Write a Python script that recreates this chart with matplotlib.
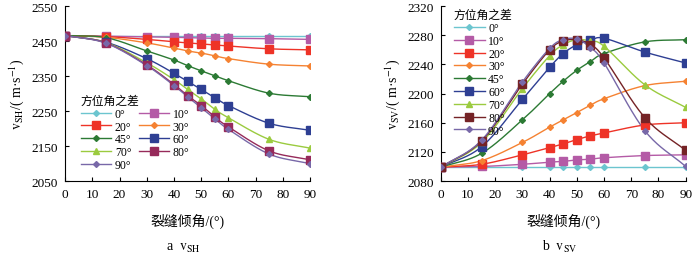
import numpy as np
import matplotlib
matplotlib.use('Agg')
import matplotlib.pyplot as plt

plt.rcParams['font.family'] = ['Liberation Serif', 'Noto Sans CJK SC']
plt.rcParams['mathtext.fontset'] = 'stix'

# fracture dip angle (deg)
dip = [0, 15, 30, 40, 45, 50, 55, 60, 75, 90]
labels = ['0°', '10°', '20°', '30°', '45°', '60°', '70°', '80°', '90°']

# vSH (m/s) for each azimuth difference
vsh = [
    [2466, 2466, 2466, 2466, 2466, 2466, 2466, 2466, 2466, 2466],
    [2466, 2464, 2462, 2461, 2460, 2459, 2458, 2458, 2457, 2455],
    [2466, 2463, 2455, 2448, 2445, 2442, 2439, 2436, 2428, 2425],
    [2466, 2461, 2445, 2430, 2422, 2416, 2408, 2400, 2384, 2379],
    [2466, 2460, 2422, 2396, 2380, 2365, 2351, 2337, 2301, 2291],
    [2466, 2447, 2400, 2358, 2335, 2312, 2288, 2266, 2215, 2195],
    [2466, 2446, 2388, 2340, 2312, 2285, 2255, 2231, 2169, 2144],
    [2466, 2445, 2382, 2326, 2294, 2266, 2233, 2205, 2136, 2111],
    [2466, 2444, 2380, 2323, 2291, 2260, 2228, 2198, 2127, 2100],
]

# vSV (m/s) for each azimuth difference
vsv = [
    [2099, 2099, 2099, 2099, 2099, 2099, 2099, 2099, 2099, 2099],
    [2099, 2100, 2103, 2106, 2107, 2109, 2110, 2112, 2115, 2116],
    [2099, 2103, 2116, 2126, 2131, 2137, 2142, 2146, 2157, 2160],
    [2099, 2108, 2133, 2154, 2164, 2174, 2184, 2193, 2211, 2217],
    [2099, 2118, 2164, 2200, 2217, 2232, 2244, 2255, 2271, 2274],
    [2099, 2127, 2192, 2236, 2255, 2267, 2273, 2276, 2257, 2242],
    [2099, 2133, 2207, 2252, 2267, 2274, 2272, 2265, 2212, 2181],
    [2099, 2135, 2213, 2260, 2272, 2274, 2267, 2249, 2167, 2122],
    [2099, 2136, 2216, 2262, 2274, 2275, 2263, 2242, 2149, 2100],
]

colors_a = ['#6cc5cf', '#b45ba6', '#ee3327', '#f58232', '#2c7a34',
            '#2e3f93', '#9bcb3f', '#962a5a', '#7868a8']
colors_b = ['#6cc5cf', '#b45ba6', '#ee3327', '#f58232', '#2c7a34',
            '#2e3f93', '#9bcb3f', '#752326', '#7868a8']
markers = ['D', 's', 's', 'D', 'D', 's', '^', 's', 'D']
msizes = [3, 5.5, 5.5, 3, 3, 5.5, 5, 5.5, 3]


def smooth(x, y, n=20):
    # Catmull-Rom style smoothing like spreadsheet "smoothed line"
    x = np.asarray(x, float)
    y = np.asarray(y, float)
    px = np.concatenate([[2 * x[0] - x[1]], x, [2 * x[-1] - x[-2]]])
    py = np.concatenate([[2 * y[0] - y[1]], y, [2 * y[-1] - y[-2]]])
    xs, ys = [], []
    t = np.linspace(0, 1, n, endpoint=False)
    for i in range(1, len(px) - 2):
        p0, p1, p2, p3 = [np.array([px[j], py[j]]) for j in range(i - 1, i + 3)]
        tt = t[:, None]
        pts = 0.5 * ((2 * p1) + (-p0 + p2) * tt + (2 * p0 - 5 * p1 + 4 * p2 - p3) * tt ** 2
                     + (-p0 + 3 * p1 - 3 * p2 + p3) * tt ** 3)
        xs.extend(pts[:, 0])
        ys.extend(pts[:, 1])
    xs.append(x[-1])
    ys.append(y[-1])
    return xs, ys


def draw(ax, data, colors):
    handles = []
    for i, lab in enumerate(labels):
        sx, sy = smooth(dip, data[i])
        ax.plot(sx, sy, color=colors[i], lw=1.0, zorder=2)
        ax.plot(dip, data[i], ls='none', marker=markers[i], ms=msizes[i],
                color=colors[i], mec=colors[i], zorder=3)
        h, = ax.plot([], [], color=colors[i], lw=1.0, marker=markers[i],
                     ms=msizes[i], mec=colors[i], label=lab)
        handles.append(h)
    ax.set_xlim(0, 90)
    ax.set_xticks(range(0, 91, 10))
    for s in ['top', 'right']:
        ax.spines[s].set_visible(False)
    ax.tick_params(direction='in', length=3, labelsize=9.5, width=0.8, pad=5)
    ax.set_xlabel('裂缝倾角/(°)', fontsize=10, labelpad=9)
    return handles


fig = plt.figure(figsize=(7, 2.55), dpi=100)
ax1 = fig.add_axes([0.093, 0.286, 0.35, 0.686])
ax2 = fig.add_axes([0.6296, 0.286, 0.35, 0.686])

h1 = draw(ax1, vsh, colors_a)
ax1.set_ylim(2050, 2550)
ax1.set_yticks(range(2050, 2551, 100))
ax1.set_ylabel(r'$\mathrm{v_{SH}}$/( m·s$^{-1}$)', fontsize=10, labelpad=4)
order = [0, 2, 4, 6, 8, 1, 3, 5, 7]
leg1 = ax1.legend(handles=[h1[i] for i in order], ncol=2, loc='upper left',
                  bbox_to_anchor=(0.03, 0.54),
                  title='方位角之差', frameon=False, fontsize=8.5, title_fontsize=8.5,
                  handlelength=2.6, handletextpad=0.3, columnspacing=0.6,
                  labelspacing=0.07, borderpad=0.2)
leg1._legend_box.align = 'left'

h2 = draw(ax2, vsv, colors_b)
ax2.set_ylim(2080, 2320)
ax2.set_yticks(range(2080, 2321, 40))
ax2.set_ylabel(r'$\mathrm{v_{SV}}$/( m·s$^{-1}$)', fontsize=10, labelpad=4)
leg2 = ax2.legend(handles=h2, ncol=1, loc='upper left', bbox_to_anchor=(0.02, 1.03),
                  title='方位角之差', frameon=False, fontsize=8.5, title_fontsize=8.5,
                  handlelength=2.6, handletextpad=0.3,
                  labelspacing=0.07, borderpad=0.2)
leg2._legend_box.align = 'left'

fig.text(0.262, 0.018, r'a  $\mathrm{v_{SH}}$', ha='center', fontsize=10)
fig.text(0.80, 0.018, r'b  $\mathrm{v_{SV}}$', ha='center', fontsize=10)

fig.savefig('out.png', dpi=100)
